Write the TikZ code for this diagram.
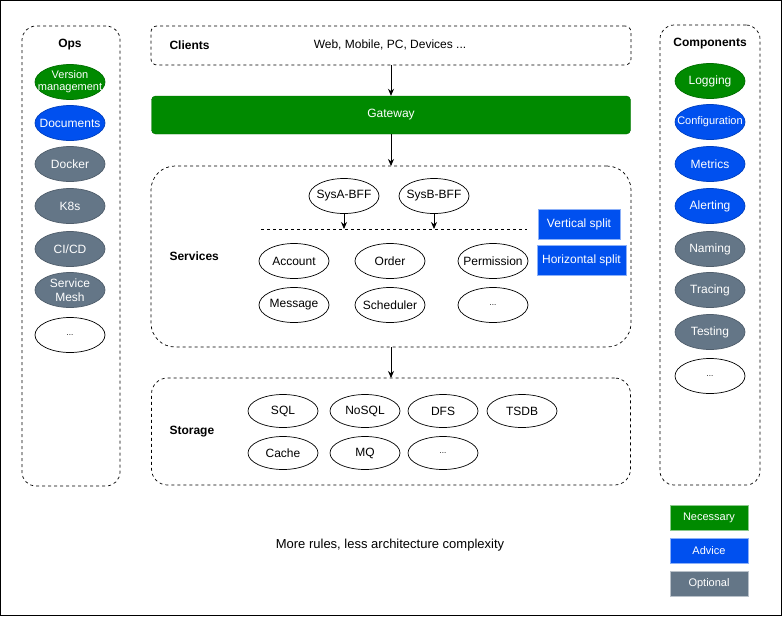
\documentclass[tikz,border=0pt]{standalone}
\usepackage{fontspec}
\setmainfont{Liberation Sans}
\usetikzlibrary{positioning,shapes.geometric,arrows.meta}
\definecolor{necessary}{HTML}{008A00}
\definecolor{advice}{HTML}{0050EF}
\definecolor{optional}{HTML}{647687}

\begin{document}
\begin{tikzpicture}[x=1pt, y=-1pt,
    font=\fontsize{12}{14}\selectfont,
    arr/.style={-{Stealth[length=7pt, width=6pt]}, line width=0.8pt},
    group/.style={draw, dashed, line width=0.7pt, rounded corners=#1, outer sep=0pt},
    group/.default=14pt,
    title/.style={font=\fontsize{12}{14}\selectfont\bfseries},
    pill/.style={ellipse, minimum width=70pt, minimum height=35pt, inner xsep=-14pt, inner ysep=-8pt,
      align=center, line width=0.7pt},
    plain/.style={pill, draw=black, fill=white},
    necessary/.style={pill, fill=necessary, draw=necessary!80!black, text=white},
    advice/.style={pill, fill=advice, draw=advice!80!black, text=white},
    optional/.style={pill, fill=optional, draw=optional!80!black, text=white},
    tag/.style={rectangle, text=white, inner sep=0pt}]
  % Frame
  \useasboundingbox (0,0) rectangle (782,616);
  \draw[line width=1pt] (0.5,0.5) rectangle (781.5,615.5);
  % Groups
  \node[group=14pt, minimum width=98pt, minimum height=460pt] (ops) at (71,256) {};
  \node[group=14pt, minimum width=100pt, minimum height=460pt] (comps) at (710,255) {};
  \node[group=6pt, minimum width=480pt, minimum height=39pt] (clients) at (391,45.5) {};
  \node[group=24pt, minimum width=480pt, minimum height=181pt] (services) at (391,256.5) {};
  \node[group=16pt, minimum width=479pt, minimum height=107pt] (storage) at (391,431.5) {};
  \node[fill=necessary, draw=necessary!80!black, rounded corners=4pt, minimum width=479pt,
    minimum height=38pt, text=white] (gateway) at (391,115) {Gateway};
  % Titles
  \node[title] (opsT) at (70,45) {Ops};
  \node[title] (compsT) at (710,44) {Components};
  \node[title, anchor=west] (clientsT) at (166,45) {Clients};
  \node[title, anchor=west] (servicesT) at (166,256) {Services};
  \node[title, anchor=west] (storageT) at (166,432) {Storage};
  \node (devices) at (390,45) {Web, Mobile, PC, Devices ...};
  % Layers
  \draw[arr] (clients) -- (gateway);
  \draw[arr] (gateway) -- (services);
  \draw[arr] (services) -- (storage);
  % Ops
  \node[necessary, font=\fontsize{11}{12}\selectfont] (ver) at (70,82) {Version\\management};
  \foreach \id/\lbl/\kind/\yy in {docs/Documents/advice/123, docker/Docker/optional/164,
      ks/K8s/optional/206, cicd/CI\slash CD/optional/249, mesh/{Service\\Mesh}/optional/290}
    \node[\kind] (\id) at (70,\yy) {\lbl};
  \node[plain, font=\fontsize{8}{9}\selectfont] (opsMore) at (70,335) {...};
  % Components
  \foreach \id/\lbl/\kind/\yy in {logging/Logging/necessary/81, metrics/Metrics/advice/164,
      alerting/Alerting/advice/206, naming/Naming/optional/249, tracing/Tracing/optional/290,
      testing/Testing/optional/332}
    \node[\kind] (\id) at (710,\yy) {\lbl};
  \node[advice, font=\fontsize{11}{13}\selectfont] (config) at (710,122) {Configuration};
  \node[plain, font=\fontsize{8}{9}\selectfont] (compsMore) at (710,376) {...};
  % Services
  \node[plain] (sysA) at (344,196) {SysA-BFF};
  \node[plain] (sysB) at (434,196) {SysB-BFF};
  \coordinate (splitL) at (261,229);
  \coordinate (splitR) at (527,229);
  \draw[dashed, line width=0.7pt] (splitL) -- (splitR);
  \draw[arr] (sysA) -- (sysA |- splitL);
  \draw[arr] (sysB) -- (sysB |- splitL);
  \foreach \id/\lbl/\xx/\yy in {account/Account/294/261, order/Order/390/261,
      permission/Permission/493/261, message/Message/294/305, scheduler/Scheduler/390/305}
    \node[plain] (\id) at (\xx,\yy) {\lbl};
  \node[plain, font=\fontsize{8}{9}\selectfont] (svcMore) at (493,305) {...};
  \node[tag, fill=advice, draw=advice!45, minimum width=82pt, minimum height=30pt] (vsplit) at (579,224) {Vertical split};
  \node[tag, fill=advice, draw=advice!45, minimum width=89pt, minimum height=30pt] (hsplit) at (581.5,260) {Horizontal split};
  % Storage
  \foreach \id/\lbl/\xx/\yy in {sql/SQL/283/411, nosql/NoSQL/365/411, dfs/DFS/443/411,
      tsdb/TSDB/522/411, cache/Cache/283/453, mq/MQ/365/453}
    \node[plain, minimum height=33pt] (\id) at (\xx,\yy) {\lbl};
  \node[plain, minimum height=33pt, font=\fontsize{8}{9}\selectfont] (stoMore) at (443,453) {...};
  % Legend
  \node[tag, fill=necessary, draw=necessary!45, minimum width=78pt, minimum height=25pt,
    font=\fontsize{11}{13}\selectfont] (legNec) at (709,517.5) {Necessary};
  \node[tag, fill=advice, draw=advice!45, minimum width=78pt, minimum height=25pt,
    font=\fontsize{11}{13}\selectfont] (legAdv) at (709,550.5) {Advice};
  \node[tag, fill=optional, draw=optional!45, minimum width=78pt, minimum height=25pt,
    font=\fontsize{11}{13}\selectfont] (legOpt) at (709,584) {Optional};
  \node[font=\fontsize{13}{15}\selectfont] (motto) at (390,545) {More rules, less architecture complexity};
\end{tikzpicture}
\end{document}
